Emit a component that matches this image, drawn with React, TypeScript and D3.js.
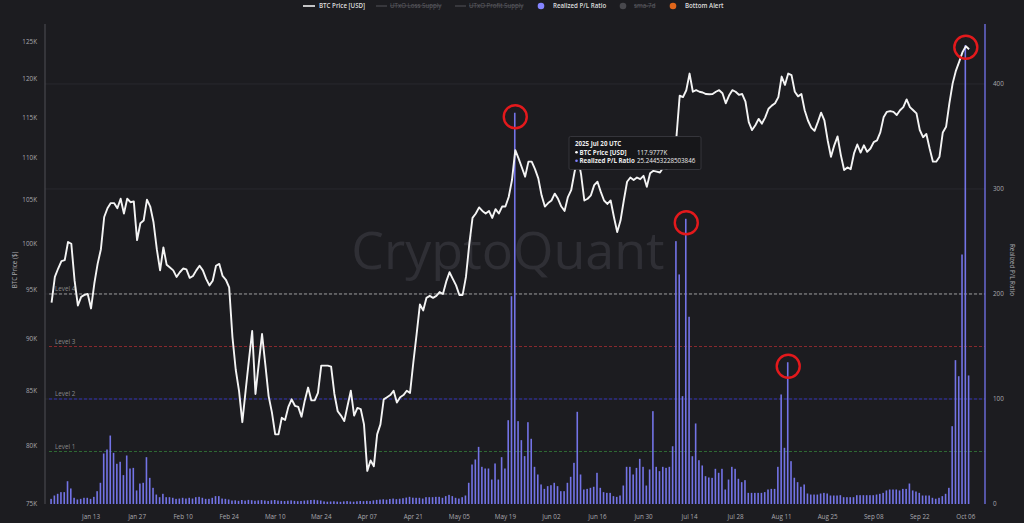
import React from "react";
import * as d3 from "d3";

const W = 1024;
const H = 523;

// Daily series, starting 2025-01-01 (UTC)
const startYear = 2025;

// BTC price, thousands of USD
const priceK = [
  93.7, 96.4, 97.3, 98.1, 98.2, 100.2, 100.0, 96.0, 93.4, 94.3,
  94.5, 94.6, 93.1, 95.7, 97.8, 99.4, 103.0, 104.0, 104.6, 104.6,
  104.0, 105.1, 103.4, 105.1, 104.7, 104.8, 100.4, 102.3, 102.6, 105.0,
  104.2, 102.4, 99.4, 97.1, 99.6, 97.7, 97.4, 97.1, 96.4, 96.9,
  97.3, 97.2, 96.3, 96.5, 97.1, 97.6, 97.1, 96.2, 95.5, 96.0,
  97.6, 97.8, 96.5, 96.1, 95.3, 90.2, 87.0, 85.0, 82.1, 85.0,
  87.9, 90.8, 84.7, 87.6, 90.5, 87.5, 84.5, 83.0, 81.0, 81.0,
  82.5, 82.3, 83.5, 84.2, 83.6, 83.5, 82.6, 84.1, 85.3, 84.1,
  84.1, 84.8, 87.4, 87.4, 87.4, 87.3, 84.7, 83.1, 82.7, 82.2,
  83.6, 85.0, 82.7, 83.4, 83.3, 81.9, 77.8, 78.7, 78.2, 81.0,
  81.9, 84.2, 84.4, 84.6, 85.0, 83.9, 84.4, 84.6, 85.0, 84.8,
  87.7, 90.5, 93.5, 92.9, 94.2, 94.4, 94.2, 94.4, 94.8, 94.6,
  95.9, 96.9, 96.2, 95.5, 94.5, 94.5, 96.4, 99.9, 102.9, 103.4,
  104.1, 103.7, 103.4, 103.7, 102.9, 103.9, 103.4, 104.2, 104.2, 105.3,
  107.3, 110.9, 109.9, 108.8, 107.7, 109.5, 109.5, 108.6, 107.5, 105.5,
  104.2, 104.6, 104.9, 105.7, 105.1, 104.2, 103.7, 105.3, 106.1, 108.2,
  110.1, 108.0, 104.9, 105.1, 105.5, 106.7, 107.1, 105.9, 104.9, 104.5,
  104.9, 103.0, 101.3, 102.6, 104.9, 107.1, 107.6, 107.3, 107.6, 107.4,
  107.8, 106.5, 108.1, 108.4, 108.3, 108.2, 108.8, 108.6, 109.2, 110.5,
  112.5, 117.8, 117.6, 118.5, 120.7, 118.3, 118.5, 118.3, 118.2, 118.0,
  117.9777, 118.0, 118.3, 118.5, 118.1, 116.8, 117.8, 118.5, 118.3, 117.9,
  118.0, 117.0, 114.4, 113.4, 114.0, 114.8, 114.2, 115.0, 116.1, 116.5,
  116.8, 117.6, 120.3, 119.2, 120.7, 120.5, 118.3, 117.7, 118.0, 115.9,
  114.6, 113.7, 113.3, 114.4, 115.6, 114.6, 112.1, 110.1, 111.5, 112.6,
  110.3, 108.5, 108.8, 108.6, 110.5, 111.6, 110.6, 111.5, 110.7, 111.1,
  111.9, 112.1, 113.1, 115.0, 115.7, 115.8, 115.7, 115.3, 115.9, 116.3,
  117.3, 116.3, 115.9, 115.5, 113.4, 112.5, 112.9, 111.1, 109.5, 109.5,
  110.1, 113.1, 113.8, 116.8, 119.4, 121.1, 122.3, 123.6, 124.4, 124.0,
];

// Realized P/L ratio
const plRatio = [
  4.9, 8.1, 9.7, 11.3, 11.3, 21.7, 14.8, 5.9, 4.3, 4.9,
  5.9, 5.9, 4.9, 6.8, 12.2, 20.2, 48.1, 51.9, 65.2, 48.7,
  38.3, 40.2, 27.5, 46.2, 33.8, 34.4, 12.9, 19.5, 20.2, 44.6,
  24.9, 15.4, 9.0, 6.5, 9.7, 6.5, 6.5, 5.9, 4.9, 5.2,
  5.9, 5.2, 5.9, 5.2, 6.5, 6.8, 5.9, 4.9, 4.9, 5.9,
  7.5, 7.5, 5.2, 4.9, 4.3, 3.3, 3.5, 3.0, 3.8, 3.2,
  3.9, 3.6, 3.1, 3.4, 3.7, 3.3, 2.9, 3.5, 3.8, 3.2,
  3.0, 2.8, 3.1, 3.4, 3.0, 2.7, 2.9, 3.2, 3.5, 3.8,
  4.0, 3.6, 3.3, 2.5, 2.2, 2.4, 2.6, 2.3, 2.1, 2.5,
  2.8, 2.4, 2.2, 2.6, 2.9, 2.7, 3.0, 2.8, 3.4, 3.9,
  4.2, 4.5, 4.1, 4.8, 5.2, 4.6, 5.0, 5.5, 6.1, 6.8,
  6.0, 5.9, 5.9, 5.2, 6.5, 6.5, 6.5, 6.8, 6.8, 5.9,
  7.5, 8.7, 7.5, 5.9, 5.2, 6.5, 8.1, 20.2, 37.6, 42.4,
  54.4, 35.4, 33.8, 33.8, 23.3, 38.6, 23.3, 44.6, 33.8, 79.8,
  197.9, 372.6, 78.9, 60.8, 45.6, 77.9, 62.1, 35.4, 28.1, 18.6,
  14.4, 17.0, 17.9, 20.2, 17.0, 12.2, 12.2, 20.2, 25.9, 39.2,
  87.8, 28.1, 13.8, 14.4, 15.4, 16.4, 29.7, 15.4, 11.3, 10.6,
  10.6, 7.5, 6.8, 8.1, 17.6, 35.4, 35.4, 28.1, 34.4, 43.0,
  35.4, 17.6, 32.9, 88.4, 35.4, 31.3, 35.4, 34.4, 35.4, 55.0,
  250.3, 218.6, 102.7, 271.6, 178.3, 45.5, 76.7, 41.7, 36.7, 26.5,
  25.2445, 24.9, 33.5, 29.7, 33.5, 13.8, 23.3, 35.4, 33.5, 24.0,
  20.8, 22.7, 10.6, 10.6, 10.6, 10.6, 10.6, 11.3, 13.8, 14.4,
  14.4, 35.4, 104.3, 53.5, 135.0, 40.8, 25.0, 20.8, 16.4, 18.6,
  10.0, 9.0, 9.0, 9.0, 10.0, 10.6, 10.0, 8.1, 8.1, 8.1,
  8.4, 6.5, 6.5, 6.5, 6.5, 8.4, 8.4, 8.4, 8.4, 8.4,
  8.4, 9.0, 9.7, 10.6, 12.9, 13.8, 13.8, 13.8, 12.9, 14.4,
  14.4, 19.5, 12.9, 11.9, 10.6, 8.1, 8.1, 8.1, 5.9, 5.0,
  5.9, 7.5, 9.7, 15.4, 74.1, 137.0, 121.7, 237.6, 437.0, 122.4,
];

const leftTicksK = [75, 80, 85, 90, 95, 100, 105, 110, 115, 120, 125];
const rightTicks = [0, 100, 200, 300, 400];
const xTickDates = [
  "2025-01-13", "2025-01-27", "2025-02-10", "2025-02-24", "2025-03-10",
  "2025-03-24", "2025-04-07", "2025-04-21", "2025-05-05", "2025-05-19",
  "2025-06-02", "2025-06-16", "2025-06-30", "2025-07-14", "2025-07-28",
  "2025-08-11", "2025-08-25", "2025-09-08", "2025-09-22", "2025-10-06",
];
const levelNames = ["Level 1", "Level 2", "Level 3", "Level 4"];
const levelValues = [50, 100, 150, 200];
// days (1-based index) highlighted with red circles; which series they mark
const highlightBarDays = [142, 194, 225];
const highlightPriceDays = [279];

const legendLabels = ["BTC Price [USD]", "UTxO Loss Supply", "UTxO Profit Supply", "Realized P/L Ratio", "sma-7d", "Bottom Alert"];

const tooltipTitle = "2025 Jul 20 UTC";
const tooltipDay = 201;
const tooltipRatioText = "25.24453228503846";

const FONT = "'Open Sans', 'Noto Sans', Roboto, sans-serif";
const BG = "#1c1c20";
const BAR = "#7373e6";
const levelColors = ["#2f6b34", "#3232b8", "#8a2a2e", "#9a9a9a"];

function dayDate(i: number) {
  return new Date(Date.UTC(startYear, 0, i + 1));
}

export default function App() {
  const left = 45, right = 985, top = 24, bottom = 504;

  const x = d3
    .scaleUtc()
    .domain([new Date(Date.UTC(2024, 11, 30)), new Date(Date.UTC(2025, 9, 11, 20))])
    .range([left, right]);
  const yL = d3.scaleLog().domain([75000, 127500]).range([bottom, top]);
  const yR = d3.scaleLinear().domain([0, 457.1]).range([bottom, top]);

  const line = d3
    .line<number>()
    .x((_, i) => x(dayDate(i)))
    .y((v) => yL(v * 1000));

  const fmtX = d3.utcFormat("%b %d");
  const tickFont = 6.3;

  const legendY = 6;

  return (
    <svg
      width={W}
      height={H}
      style={{ position: "fixed", left: 0, top: 0, background: BG, display: "block" }}
      fontFamily={FONT}
    >
      <rect x={0} y={0} width={W} height={H} fill={BG} />

      {/* watermark */}
      <text x={508} y={269} textAnchor="middle" fontSize={52} fontWeight={500} fill="#2f2f35" fontFamily={FONT}>
        CryptoQuant
      </text>

      {/* gridlines (right axis) */}
      {rightTicks.filter((t) => t > 0).map((t) => (
        <line key={"g" + t} x1={left} x2={right} y1={yR(t)} y2={yR(t)} stroke="#29292e" strokeWidth={1} />
      ))}

      {/* level lines */}
      {levelValues.map((v, i) => (
        <g key={"lv" + i}>
          <line
            x1={left + 4}
            x2={right}
            y1={yR(v)}
            y2={yR(v)}
            stroke={levelColors[i]}
            strokeWidth={1}
            strokeDasharray="3,2"
          />
          <text x={55} y={yR(v) - 2.5} fontSize={6.3} fill="#8a8a8a">
            {levelNames[i]}
          </text>
        </g>
      ))}

      {/* bars */}
      {plRatio.map((v, i) => {
        const cx = x(dayDate(i));
        return (
          <rect
            key={"b" + i}
            x={cx - 1.3}
            y={yR(v)}
            width={1.6}
            height={Math.max(0, yR(0) - yR(v))}
            fill={BAR}
          />
        );
      })}

      {/* price line */}
      <path d={line(priceK) || ""} fill="none" stroke="#f4f4f4" strokeWidth={1.9} strokeLinejoin="round" />

      {/* axes lines */}
      <line x1={left} x2={left} y1={top} y2={bottom} stroke="#4e4e54" strokeWidth={1} />
      <line x1={right} x2={right} y1={top} y2={bottom} stroke="#6e6ee0" strokeWidth={1.4} />

      {/* left ticks */}
      {leftTicksK.map((t) => (
        <text key={"l" + t} x={37} y={yL(t * 1000) + 2.2} textAnchor="end" fontSize={tickFont} fill="#a8a8ae">
          {t}K
        </text>
      ))}
      <text
        transform={`translate(17,${(top + bottom) / 2 + 6}) rotate(-90)`}
        textAnchor="middle"
        fontSize={6.3}
        fill="#a8a8ae"
      >
        BTC Price ($)
      </text>

      {/* right ticks */}
      {rightTicks.map((t) => (
        <text key={"r" + t} x={993} y={yR(t) + 2.2} fontSize={tickFont} fill="#a8a8ae">
          {t}
        </text>
      ))}
      <text
        transform={`translate(1010,${(top + bottom) / 2 + 6}) rotate(90)`}
        textAnchor="middle"
        fontSize={6.3}
        fill="#a8a8ae"
      >
        Realized P/L Ratio
      </text>

      {/* x ticks */}
      {xTickDates.map((s) => {
        const d = new Date(s + "T00:00:00Z");
        return (
          <text key={s} x={x(d)} y={519} textAnchor="middle" fontSize={tickFont} fill="#a8a8ae">
            {fmtX(d)}
          </text>
        );
      })}

      {/* highlight circles */}
      {highlightBarDays.map((dd) => (
        <circle
          key={"hb" + dd}
          cx={x(dayDate(dd - 1))}
          cy={yR(plRatio[dd - 1]) + 4}
          r={11.5}
          fill="none"
          stroke="#e3191c"
          strokeWidth={2.4}
        />
      ))}
      {highlightPriceDays.map((dd) => (
        <circle
          key={"hp" + dd}
          cx={x(dayDate(dd - 1))}
          cy={yL(priceK[dd - 1] * 1000) + 1}
          r={11.5}
          fill="none"
          stroke="#e3191c"
          strokeWidth={2.4}
        />
      ))}

      {/* tooltip */}
      <g>
        <rect x={569} y={136.5} width={132} height={33} rx={1.5} fill="#17171a" stroke="#3c3c42" strokeWidth={0.8} />
        <text x={575} y={146} fontSize={6.2} fontWeight={700} fill="#ececec">
          {tooltipTitle}
        </text>
        <circle cx={576.5} cy={152.3} r={1.3} fill="#ffffff" />
        <text x={579.5} y={154.5} fontSize={6.2} fontWeight={700} fill="#ececec">
          BTC Price [USD]
        </text>
        <text x={637} y={154.5} fontSize={6.2} fill="#ececec">
          {d3.format(".7")(priceK[tooltipDay - 1]) + "K"}
        </text>
        <circle cx={576.5} cy={160.8} r={1.3} fill="#8080ff" />
        <text x={579.5} y={163} fontSize={6.2} fontWeight={700} fill="#ececec">
          Realized P/L Ratio
        </text>
        <text x={637} y={163} fontSize={6.2} fill="#ececec">
          {tooltipRatioText}
        </text>
      </g>

      {/* legend */}
      <g fontSize={6.2}>
        <line x1={303} x2={315} y1={legendY} y2={legendY} stroke="#f0f0f0" strokeWidth={1.6} />
        <text x={319} y={legendY + 2.2} fill="#dedede" fontWeight={600}>{legendLabels[0]}</text>

        <line x1={376} x2={387} y1={legendY} y2={legendY} stroke="#4a4a4f" strokeWidth={1.2} />
        <text x={390} y={legendY + 2.2} fill="#5c5c62" textDecoration="line-through">{legendLabels[1]}</text>

        <line x1={455} x2={466} y1={legendY} y2={legendY} stroke="#4a4a4f" strokeWidth={1.2} />
        <text x={469} y={legendY + 2.2} fill="#5c5c62" textDecoration="line-through">{legendLabels[2]}</text>

        <circle cx={541} cy={legendY} r={3.3} fill="#8484ff" />
        <text x={553} y={legendY + 2.2} fill="#dedede" fontWeight={600}>{legendLabels[3]}</text>

        <circle cx={623} cy={legendY} r={3.3} fill="#48484d" />
        <text x={634} y={legendY + 2.2} fill="#5c5c62" textDecoration="line-through">{legendLabels[4]}</text>

        <circle cx={673} cy={legendY} r={3.3} fill="#e0661a" />
        <text x={685} y={legendY + 2.2} fill="#dedede" fontWeight={600}>{legendLabels[5]}</text>
      </g>
    </svg>
  );
}
